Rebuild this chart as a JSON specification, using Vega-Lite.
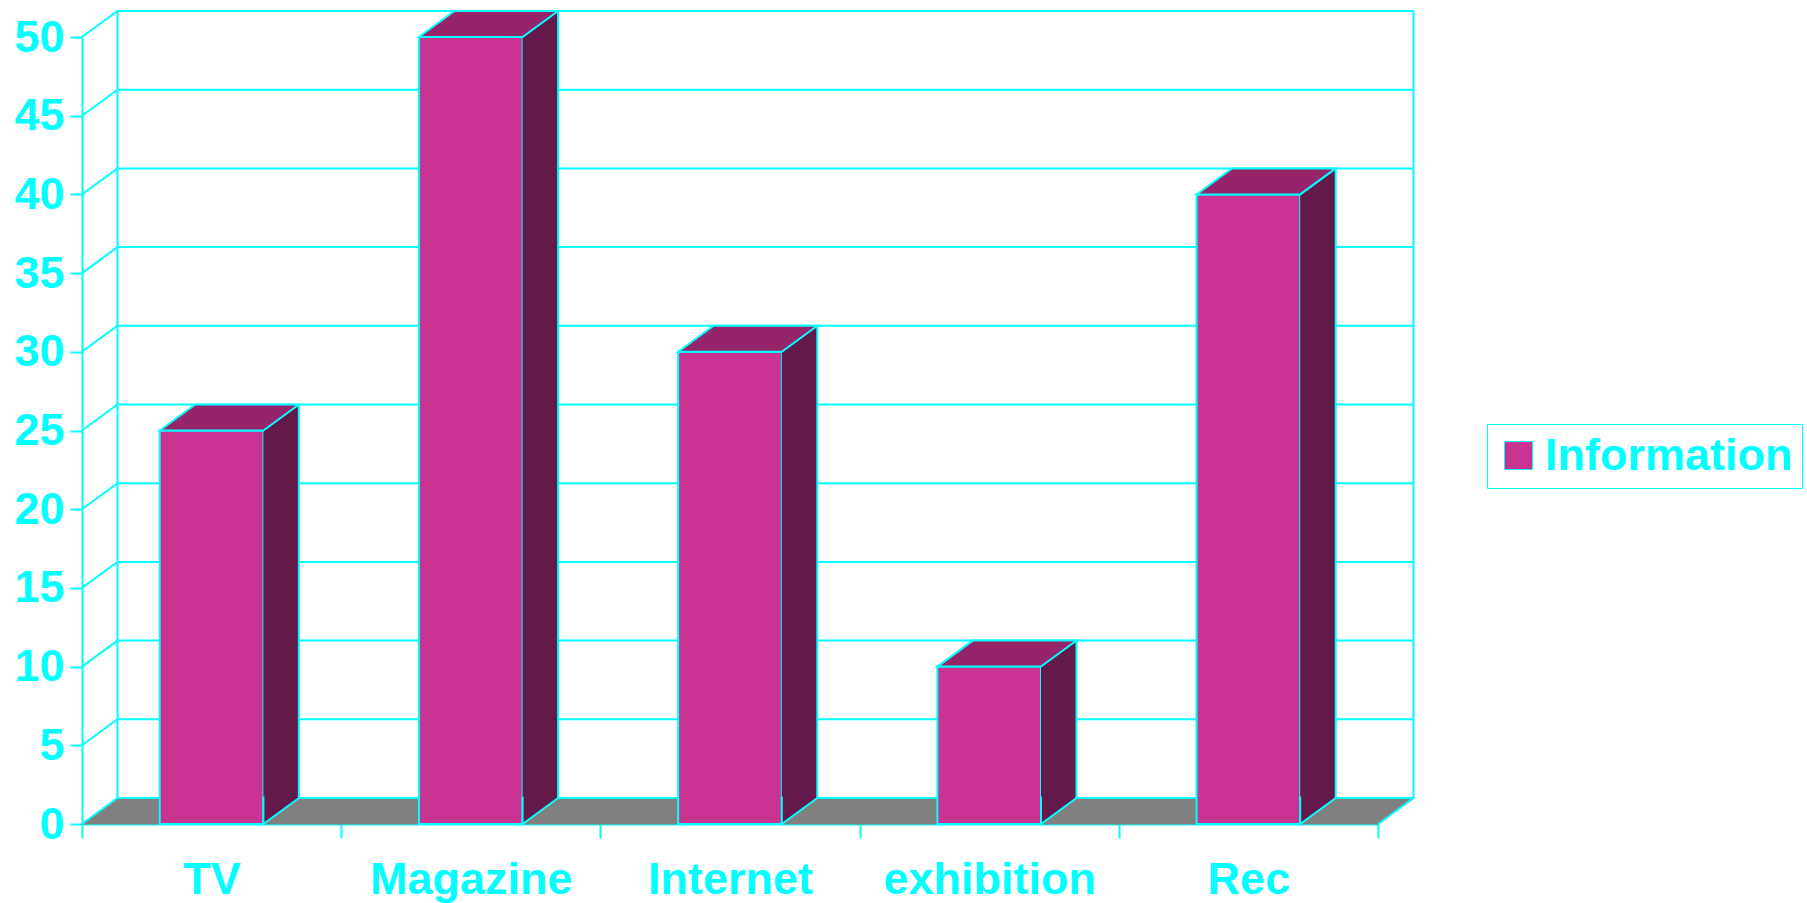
{
  "$schema": "https://vega.github.io/schema/vega-lite/v6.json",
  "autosize": "none",
  "padding": {"left": 82, "top": 37, "right": 429, "bottom": 79},
  "width": 1296,
  "height": 787,
  "background": "white",
  "config": {
    "view": {"stroke": null},
    "font": "Liberation Sans",
    "axis": {"grid": false, "domainColor": "#00FFFF", "domainWidth": 2, "tickColor": "#00FFFF", "tickWidth": 2, "labelFont": "Liberation Sans", "labelFontSize": 45, "labelFontWeight": "bold", "labelColor": "#00FFFF", "labelLimit": 0},
    "axisX": {"tickSize": 14, "labelPadding": 19, "labelAngle": 0, "tickBand": "extent"},
    "axisY": {"tickSize": 12, "labelPadding": 6}
  },
  "datasets": {
    "bars": [
      {"cat": "TV", "value": 25},
      {"cat": "Magazine", "value": 50},
      {"cat": "Internet", "value": 30},
      {"cat": "exhibition", "value": 10},
      {"cat": "Rec", "value": 40}
    ],
    "ticks": [
      {"v": 0}, {"v": 5}, {"v": 10}, {"v": 15}, {"v": 20}, {"v": 25},
      {"v": 30}, {"v": 35}, {"v": 40}, {"v": 45}, {"v": 50}
    ]
  },
  "data": {"name": "bars"},
  "layer": [
    {
      "mark": {"type": "point", "shape": "M-129.6,0L129.6,0L165.1,-26L-94.1,-26Z", "size": 4, "filled": true, "fill": "#808080", "stroke": "#808080", "strokeWidth": 1.2, "opacity": 1},
      "encoding": {
        "x": {"field": "cat", "type": "nominal", "sort": null, "scale": {"domain": ["TV", "Magazine", "Internet", "exhibition", "Rec"], "paddingInner": 0, "paddingOuter": 0}, "axis": {"title": null}},
        "y": {"datum": 0, "type": "quantitative", "scale": {"domain": [0, 50], "nice": false}, "axis": {"title": null}}
      }
    },
    {
      "data": {"name": "ticks"},
      "mark": {"type": "point", "shape": "M0,0L35.5,-26L1331.5,-26", "size": 4, "filled": false, "stroke": "#00FFFF", "strokeWidth": 2, "opacity": 1},
      "encoding": {
        "x": {"datum": "TV", "bandPosition": 0, "axis": {"title": null}},
        "y": {"field": "v", "type": "quantitative", "axis": {"title": null}}
      }
    },
    {
      "data": {"name": "ticks"},
      "transform": [{"filter": "datum.v == 50"}],
      "mark": {"type": "rule", "color": "#00FFFF", "strokeWidth": 2, "xOffset": 35.5, "yOffset": -26, "y2Offset": -26},
      "encoding": {
        "x": {"datum": "TV", "bandPosition": 0, "axis": {"title": null}},
        "y": {"field": "v", "type": "quantitative", "axis": {"title": null}},
        "y2": {"datum": 0}
      }
    },
    {
      "data": {"name": "ticks"},
      "transform": [{"filter": "datum.v == 50"}],
      "mark": {"type": "rule", "color": "#00FFFF", "strokeWidth": 2, "xOffset": 35.5, "yOffset": -26, "y2Offset": -26},
      "encoding": {
        "x": {"datum": "Rec", "bandPosition": 1, "axis": {"title": null}},
        "y": {"field": "v", "type": "quantitative", "axis": {"title": null}},
        "y2": {"datum": 0}
      }
    },
    {
      "data": {"name": "ticks"},
      "transform": [{"filter": "datum.v == 0"}],
      "mark": {"type": "point", "shape": "M0,0L35.5,-26", "size": 4, "filled": false, "stroke": "#00FFFF", "strokeWidth": 2, "opacity": 1},
      "encoding": {
        "x": {"datum": "Rec", "bandPosition": 1, "axis": {"title": null}},
        "y": {"field": "v", "type": "quantitative", "axis": {"title": null}}
      }
    },
    {
      "mark": {"type": "bar", "width": {"band": 0.4}, "stroke": "#00FFFF", "strokeWidth": 2, "opacity": 1},
      "encoding": {
        "x": {"field": "cat", "type": "nominal", "sort": null, "axis": {"title": null}},
        "y": {"field": "value", "type": "quantitative", "axis": {"title": null, "values": [0, 5, 10, 15, 20, 25, 30, 35, 40, 45, 50]}},
        "y2": {"datum": 0},
        "fill": {"datum": "Information", "type": "nominal", "scale": {"range": ["#C93391"]},
          "legend": {"title": null, "orient": "none", "legendX": 1405, "legendY": 387, "padding": 9, "strokeColor": "#00FFFF", "symbolType": "square", "symbolSize": 784, "symbolStrokeColor": "#00FFFF", "symbolStrokeWidth": 1, "symbolOpacity": 1, "labelFont": "Liberation Sans", "labelFontSize": 45, "labelFontWeight": "bold", "labelColor": "#00FFFF", "labelOffset": 4, "labelLimit": 400}}
      }
    },
    {
      "mark": {"type": "bar", "width": 35.5, "xOffset": 69.55, "yOffset": -26, "y2Offset": -26, "fill": "#631A4B", "opacity": 1},
      "encoding": {
        "x": {"field": "cat", "type": "nominal", "sort": null, "axis": {"title": null}},
        "y": {"field": "value", "type": "quantitative", "axis": {"title": null}},
        "y2": {"datum": 0}
      }
    },
    {
      "mark": {"type": "point", "shape": "M51.8,-27.5L51.8,0L87.3,-26L87.3,-27.5", "size": 4, "filled": true, "fill": "#631A4B", "stroke": "#00FFFF", "strokeWidth": 2, "opacity": 1},
      "encoding": {
        "x": {"field": "cat", "type": "nominal", "sort": null, "axis": {"title": null}},
        "y": {"datum": 0, "type": "quantitative", "axis": {"title": null}}
      }
    },
    {
      "mark": {"type": "rule", "color": "#00FFFF", "strokeWidth": 2, "xOffset": 87.3, "yOffset": -26, "y2Offset": -26},
      "encoding": {
        "x": {"field": "cat", "type": "nominal", "sort": null, "axis": {"title": null}},
        "y": {"field": "value", "type": "quantitative", "axis": {"title": null}},
        "y2": {"datum": 0}
      }
    },
    {
      "mark": {"type": "point", "shape": "M-51.8,0L51.8,0L87.3,-26L-16.3,-26Z", "size": 4, "filled": true, "fill": "#96246A", "stroke": "#00FFFF", "strokeWidth": 2, "opacity": 1},
      "encoding": {
        "x": {"field": "cat", "type": "nominal", "sort": null, "axis": {"title": null}},
        "y": {"field": "value", "type": "quantitative", "axis": {"title": null}}
      }
    }
  ]
}
